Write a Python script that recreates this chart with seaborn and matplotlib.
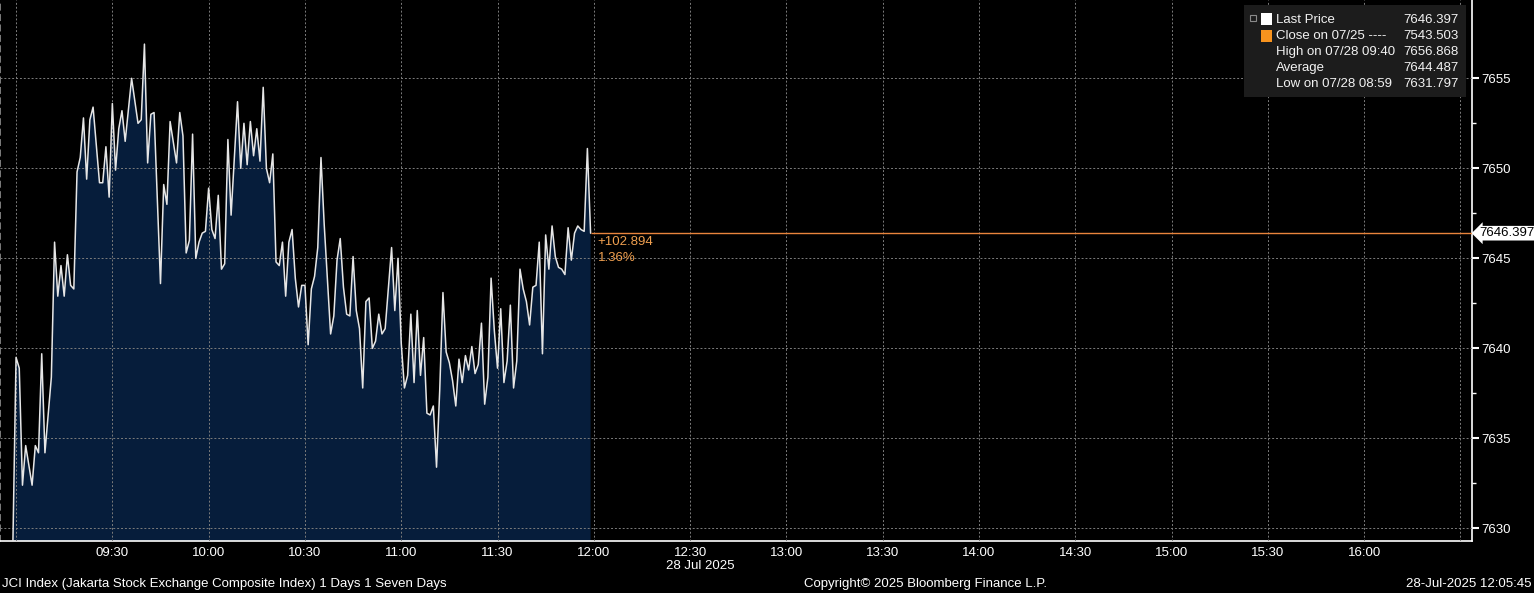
import pandas as pd
import matplotlib
matplotlib.use('Agg')
import matplotlib.pyplot as plt
from matplotlib.patches import Rectangle
from matplotlib.lines import Line2D
import seaborn as sns

# JCI intraday, 28 Jul 2025 -- minutes after 09:00 and the index level
minutes = [-1, 0, 1, 2, 3, 5, 6, 7, 8, 9,
           11, 12, 13, 14, 15, 16, 17, 18, 19, 20,
           21, 22, 23, 24, 26, 27, 28, 29, 30, 31,
           32, 33, 34, 36, 38, 39, 40, 41, 42, 43,
           45, 46, 47, 48, 50, 51, 52, 53, 54, 55,
           56, 57, 58, 59, 60, 61, 62, 63, 64, 65,
           66, 67, 69, 70, 71, 72, 73, 74, 75, 76,
           77, 78, 79, 80, 81, 82, 83, 84, 85, 86,
           87, 88, 89, 90, 91, 92, 93, 94, 95, 96,
           97, 98, 99, 100, 101, 102, 103, 104, 105, 106,
           107, 108, 109, 110, 111, 112, 113, 114, 115, 117,
           118, 119, 120, 121, 122, 123, 124, 125, 126, 127,
           128, 129, 130, 131, 132, 133, 134, 135, 136, 137,
           138, 139, 140, 141, 142, 143, 144, 145, 146, 147,
           148, 149, 150, 151, 152, 153, 154, 155, 156, 157,
           158, 159, 160, 161, 162, 163, 164, 165, 166, 167,
           168, 169, 170, 171, 172, 173, 174, 175, 176, 177,
           178, 179]
prices = [7629.0, 7639.5, 7638.9, 7632.4, 7634.6, 7632.4, 7634.6, 7634.2, 7639.7, 7634.2,
          7638.4, 7645.9, 7642.9, 7644.6, 7642.9, 7645.2, 7643.5, 7643.3, 7649.8, 7650.6,
          7652.8, 7649.4, 7652.7, 7653.4, 7649.2, 7649.2, 7651.2, 7648.4, 7653.6, 7649.9,
          7652.2, 7653.2, 7651.5, 7655.0, 7652.5, 7652.7, 7656.9, 7650.3, 7653.0, 7653.1,
          7643.6, 7649.1, 7648.0, 7652.6, 7650.3, 7653.1, 7651.8, 7645.3, 7646.0, 7651.9,
          7645.0, 7645.9, 7646.4, 7646.5, 7648.9, 7646.6, 7646.1, 7648.5, 7644.4, 7644.7,
          7651.6, 7647.4, 7653.7, 7650.0, 7652.5, 7650.2, 7652.6, 7650.7, 7652.2, 7650.4,
          7654.5, 7650.0, 7649.2, 7650.8, 7644.8, 7644.6, 7645.9, 7642.9, 7645.9, 7646.6,
          7643.9, 7642.3, 7643.5, 7643.5, 7640.2, 7643.3, 7644.0, 7645.6, 7650.6, 7646.9,
          7643.8, 7640.8, 7641.8, 7644.9, 7646.1, 7643.4, 7641.9, 7641.8, 7645.1, 7642.1,
          7641.1, 7637.8, 7642.6, 7642.8, 7640.0, 7640.4, 7641.9, 7640.8, 7641.1, 7645.6,
          7642.1, 7645.0, 7640.3, 7637.8, 7638.5, 7641.9, 7638.1, 7642.1, 7638.5, 7640.6,
          7636.4, 7636.3, 7636.8, 7633.4, 7637.7, 7643.1, 7639.8, 7639.2, 7638.2, 7636.8,
          7639.4, 7638.1, 7639.6, 7638.8, 7640.1, 7638.6, 7639.1, 7641.4, 7636.9, 7638.4,
          7643.9, 7641.0, 7638.9, 7642.2, 7638.1, 7639.3, 7642.4, 7637.8, 7639.3, 7644.4,
          7643.3, 7642.6, 7641.3, 7643.4, 7643.5, 7645.9, 7639.7, 7646.3, 7644.4, 7646.8,
          7645.1, 7644.5, 7644.4, 7644.1, 7646.7, 7644.9, 7646.4, 7646.8, 7646.6, 7646.5,
          7651.1, 7646.397]

last_price = 7646.397
change_abs = '+102.894'
change_pct = '1.36%'

x_ticks = [0, 30, 60, 90, 120, 150, 180, 210, 240, 270, 300, 330, 360, 390, 420, 450]
x_labels = ['', '09:30', '10:00', '10:30', '11:00', '11:30', '12:00', '12:30',
            '13:00', '13:30', '14:00', '14:30', '15:00', '15:30', '16:00', '']
y_ticks = [7630, 7635, 7640, 7645, 7650, 7655]

legend_names = ['Last Price', 'Close on 07/25 ----', 'High on 07/28 09:40',
                'Average', 'Low on 07/28 08:59']
legend_values = ['7646.397', '7543.503', '7656.868', '7644.487', '7631.797']

W, H = 1534, 593
XMIN, XMAX = -5, 453.6
YMIN, YMAX = 7629.3, 7659.35
FS = 9.5


def fx(x):
    return x / W


def fy(y):
    return 1 - y / H


sns.set_theme(style='dark', rc={'axes.facecolor': 'black', 'figure.facecolor': 'black'})
plt.rcParams['font.family'] = ['Liberation Sans', 'DejaVu Sans']

fig = plt.figure(figsize=(W / 100, H / 100), dpi=100)
ax = fig.add_axes([0, 52 / H, 1472 / W, 541 / H])

df = pd.DataFrame({'minute': minutes, 'price': prices})
ax.fill_between(df['minute'], df['price'], 7600, color='#061d3b', lw=0, zorder=1)
sns.lineplot(data=df, x='minute', y='price', ax=ax, color='#e6e6e6', lw=1.1, zorder=3)
ax.set_xlabel('')
ax.set_ylabel('')

# last price line
ax.hlines(last_price, minutes[-1], XMAX, color='#e8843c', lw=1, zorder=3)
ax.annotate(change_abs, xy=(minutes[-1], last_price), xytext=(5, -6.5),
            textcoords='offset points', color='#f0a050', fontsize=FS, va='center')
ax.annotate(change_pct, xy=(minutes[-1], last_price), xytext=(5, -18),
            textcoords='offset points', color='#f0a050', fontsize=FS, va='center')

# axes
ax.set_xticks(x_ticks)
ax.set_xticklabels(x_labels)
ax.set_xticks([t + 15 for t in x_ticks[:-1]], minor=True)
ax.set_yticks(y_ticks)
ax.set_yticks([t + 2.5 for t in y_ticks[:-1]], minor=True)
ax.yaxis.tick_right()
ax.tick_params(axis='x', which='both', direction='out', length=3, width=1,
               color='white', labelcolor='white', labelsize=FS, pad=1)
ax.tick_params(axis='y', which='major', direction='out', length=5, width=1.5,
               color='white', labelcolor='white', labelsize=FS, pad=2)
ax.tick_params(axis='y', which='minor', direction='out', length=3, width=1, color='white')

ax.grid(True, which='major', color='#7c7c7c', linestyle=(0, (2, 2)), linewidth=0.7)
ax.set_axisbelow(False)

for side in ['right', 'bottom']:
    ax.spines[side].set_color('white')
    ax.spines[side].set_linewidth(1.2)
ax.spines['top'].set_visible(False)
ax.spines['left'].set_color('#8c8c8c')
ax.spines['left'].set_linestyle((0, (3, 3)))

ax.set_xlim(XMIN, XMAX)
ax.set_ylim(YMIN, YMAX)

ax.text(1.005, last_price, f'{last_price:.3f}', transform=ax.get_yaxis_transform(),
        color='black', fontsize=FS, va='center', ha='left', clip_on=False,
        bbox=dict(boxstyle='larrow,pad=0.1', fc='white', ec='none'))

# legend box
fig.patches.append(Rectangle((fx(1244), fy(97)), 222 / W, 92 / H, transform=fig.transFigure,
                             fc='#1c1c1c', ec='none', zorder=2))
tree = '#8a8a8a'
fig.add_artist(Line2D([fx(1253), fx(1253)], [fy(22), fy(84)], color=tree, lw=0.8,
                      ls=(0, (2, 1.5))))
for yy in [36, 52, 68, 84]:
    fig.add_artist(Line2D([fx(1253), fx(1259)], [fy(yy), fy(yy)], color=tree, lw=0.8))
fig.patches.append(Rectangle((fx(1250), fy(21)), 6 / W, 6 / H, transform=fig.transFigure,
                             fc='none', ec=tree, lw=0.8, zorder=3))
fig.add_artist(Line2D([fx(1251), fx(1255)], [fy(18), fy(18)], color=tree, lw=0.8))
fig.patches.append(Rectangle((fx(1261), fy(25)), 11 / W, 12 / H, transform=fig.transFigure,
                             fc='white', ec='none', zorder=3))
fig.patches.append(Rectangle((fx(1261), fy(42)), 11 / W, 12 / H, transform=fig.transFigure,
                             fc='#f7931e', ec='none', zorder=3))
# high / average / low markers
fig.add_artist(Line2D([fx(1266), fx(1266)], [fy(46), fy(59)], color=tree, lw=1))
fig.add_artist(Line2D([fx(1263), fx(1269)], [fy(46), fy(46)], color=tree, lw=1))
fig.add_artist(Line2D([fx(1259), fx(1273)], [fy(68), fy(68)], color=tree, lw=1))
fig.add_artist(Line2D([fx(1266)], [fy(68)], color=tree, marker='o', markersize=3))
fig.add_artist(Line2D([fx(1266), fx(1266)], [fy(78), fy(91)], color=tree, lw=1))
fig.add_artist(Line2D([fx(1263), fx(1269)], [fy(91), fy(91)], color=tree, lw=1))
for i, (name, val) in enumerate(zip(legend_names, legend_values)):
    yy = 20 + 16 * i
    fig.text(fx(1276), fy(yy), name, color='#f2f2f2', fontsize=FS, va='center', ha='left')
    fig.text(fx(1459), fy(yy), val, color='#f2f2f2', fontsize=FS, va='center', ha='right')

# footer
fig.text(fx(700), fy(566), '28 Jul 2025', color='white', fontsize=FS, ha='center', va='center')
fig.text(fx(2), fy(584), 'JCI Index (Jakarta Stock Exchange Composite Index) 1 Days 1 Seven Days',
         color='white', fontsize=FS, ha='left', va='center')
fig.text(fx(926), fy(584), 'Copyright\u00a9 2025 Bloomberg Finance L.P.',
         color='white', fontsize=FS, ha='center', va='center')
fig.text(fx(1532), fy(584), '28-Jul-2025 12:05:45', color='white', fontsize=FS,
         ha='right', va='center')

fig.savefig('out.png', dpi=100, facecolor='black')
plt.close(fig)
